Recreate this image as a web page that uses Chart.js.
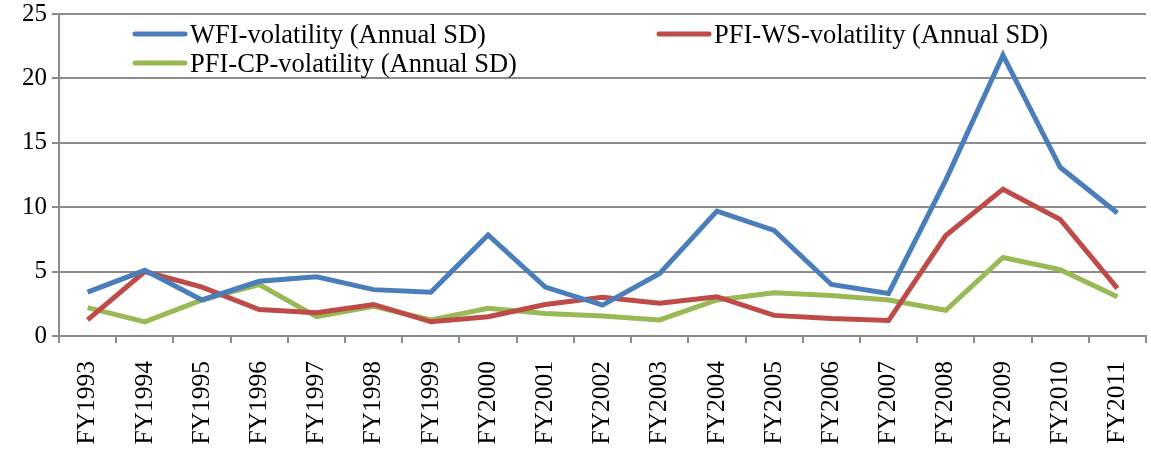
<!DOCTYPE html>
<html>
<head>
<meta charset="utf-8">
<script src="https://cdn.jsdelivr.net/npm/chart.js@4/dist/chart.umd.min.js"></script>
<style>
  html, body { margin: 0; padding: 0; background: #fff; }
  #wrap { width: 1151px; height: 452px; }
</style>
</head>
<body>
<div id="wrap"><canvas id="volChart" width="1151" height="452"></canvas></div>
<script>
// dados
var years = ['FY1993', 'FY1994', 'FY1995', 'FY1996', 'FY1997', 'FY1998', 'FY1999', 'FY2000', 'FY2001', 'FY2002',
  'FY2003', 'FY2004', 'FY2005', 'FY2006', 'FY2007', 'FY2008', 'FY2009', 'FY2010', 'FY2011'];
var wfiVol = [3.4, 5.1, 2.8, 4.25, 4.6, 3.6, 3.4, 7.85, 3.8, 2.4, 4.85, 9.7, 8.2, 4.0, 3.3, 12.1, 21.8, 13.1, 9.55];
var pfiWsVol = [1.25, 5.0, 3.8, 2.05, 1.8, 2.45, 1.1, 1.5, 2.45, 3.0, 2.55, 3.05, 1.6, 1.35, 1.2, 7.8, 11.4, 9.05, 3.7];
var pfiCpVol = [2.2, 1.1, 2.8, 4.0, 1.5, 2.3, 1.25, 2.15, 1.75, 1.55, 1.25, 2.8, 3.35, 3.15, 2.8, 2.0, 6.1, 5.15, 3.05];
var seriesNames = ['WFI-volatility (Annual SD)', 'PFI-WS-volatility (Annual SD)', 'PFI-CP-volatility (Annual SD)'];
var yTicks = [0, 5, 10, 15, 20, 25];

var serif = '"Liberation Serif", "Times New Roman", serif';
var gridGrey = '#8c8c8c';

function serie(label, data, color) {
  return {
    label: label,
    data: data,
    borderColor: color,
    backgroundColor: color,
    borderWidth: 5,
    pointRadius: 0,
    tension: 0,
    fill: false
  };
}

// legenda desenhada dentro da área do gráfico, em duas colunas como no Excel
var insideLegend = {
  id: 'insideLegend',
  afterDraw: function (chart) {
    var ctx = chart.ctx;
    var area = chart.chartArea;
    var slots = [
      { x: area.left + 74, y: area.top + 20 },
      { x: area.left + 598, y: area.top + 20 },
      { x: area.left + 74, y: area.top + 49 }
    ];
    ctx.save();
    chart.data.datasets.forEach(function (ds, i) {
      var s = slots[i];
      ctx.strokeStyle = ds.borderColor;
      ctx.lineWidth = 5;
      ctx.lineCap = 'round';
      ctx.beginPath();
      ctx.moveTo(s.x + 2, s.y);
      ctx.lineTo(s.x + 52, s.y);
      ctx.stroke();
      ctx.fillStyle = '#000';
      ctx.font = '26.5px ' + serif;
      ctx.textBaseline = 'middle';
      ctx.textAlign = 'left';
      ctx.fillText(ds.label, s.x + 57, s.y + 2);
    });
    ctx.restore();
  }
};

var volChart = new Chart(document.getElementById('volChart').getContext('2d'), {
  type: 'line',
  data: {
    labels: years,
    datasets: [
      serie(seriesNames[0], wfiVol, '#4a7ebb'),
      serie(seriesNames[1], pfiWsVol, '#be4b48'),
      serie(seriesNames[2], pfiCpVol, '#98b954')
    ]
  },
  options: {
    responsive: false,
    animation: false,
    layout: { padding: { top: 14, right: 5, left: 0, bottom: 0 } },
    plugins: {
      legend: { display: false },
      tooltip: { enabled: false }
    },
    scales: {
      x: {
        offset: true,
        grid: {
          offset: true,
          drawOnChartArea: false,
          drawTicks: true,
          tickLength: 7,
          color: gridGrey,
          lineWidth: 2
        },
        border: { color: gridGrey, width: 2 },
        ticks: {
          color: '#000',
          font: { family: serif, size: 25.5 },
          minRotation: 90,
          maxRotation: 90,
          padding: 18,
          autoSkip: false
        },
        afterFit: function (scale) {
          scale.height = 116;
          scale.paddingLeft = 0;
          scale.paddingRight = 0;
        }
      },
      y: {
        min: 0,
        max: 25,
        afterBuildTicks: function (scale) {
          scale.ticks = yTicks.map(function (v) { return { value: v }; });
        },
        grid: {
          color: gridGrey,
          lineWidth: 2,
          tickLength: 7
        },
        border: { color: gridGrey, width: 2 },
        ticks: {
          color: '#000',
          font: { family: serif, size: 25 },
          padding: 5
        },
        afterFit: function (scale) {
          scale.width = 59;
          scale.paddingTop = 0;
          scale.paddingBottom = 0;
        }
      }
    }
  },
  plugins: [insideLegend]
});
</script>
</body>
</html>
